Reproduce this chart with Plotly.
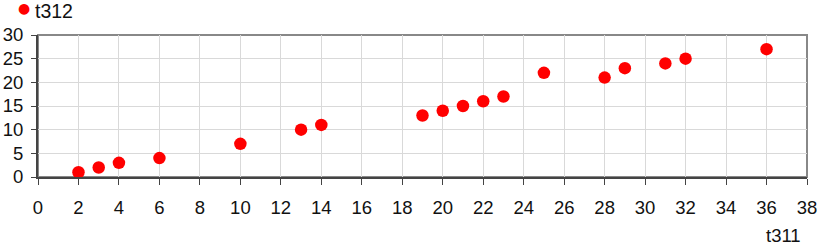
import plotly.graph_objects as go

x_vals = [2, 3, 4, 6, 10, 13, 14, 19, 20, 21, 22, 23, 25, 28, 29, 31, 32, 36]
y_vals = [1, 2, 3, 4, 7, 10, 11, 13, 14, 15, 16, 17, 22, 21, 23, 24, 25, 27]
series_name = "t312"
x_title = "t311"

W, H = 817, 245
L, T = 38, 35
R = W - 807
B = H - 177

fig = go.Figure()
fig.add_trace(go.Scatter(
    x=x_vals, y=y_vals, mode="markers", name=series_name,
    marker=dict(color="#ff0000", size=12.5, line=dict(width=0)),
    cliponaxis=False, showlegend=False,
))

font = dict(family="Liberation Sans, Arial, sans-serif", size=18.5, color="#111")
legend_font = dict(family="Liberation Sans, Arial, sans-serif", size=19.5, color="#111")

fig.update_layout(
    width=W, height=H,
    margin=dict(l=L, r=R, t=T, b=B, autoexpand=False),
    plot_bgcolor="white", paper_bgcolor="white",
    font=font,
    showlegend=False,
    xaxis=dict(range=[0, 38], dtick=2, tick0=0, showgrid=True, gridcolor="#d9d9d9",
               gridwidth=1, zeroline=False, showline=True, linecolor="#444", linewidth=2,
               ticks="outside", ticklen=6, tickcolor="#444", tickfont=font, fixedrange=True,
               ticklabelstandoff=7, ticklabeloverflow="allow"),
    yaxis=dict(range=[0, 30], dtick=5, tick0=0, showgrid=True, gridcolor="#d9d9d9",
               gridwidth=1, zeroline=False, showline=True, linecolor="#444", linewidth=2,
               ticks="outside", ticklen=5, tickcolor="#444", tickfont=font, fixedrange=True,
               ticklabelstandoff=4, ticklabeloverflow="allow"),
    shapes=[dict(type="rect", xref="x domain", yref="y domain", x0=0, x1=1, y0=0, y1=1,
                 line=dict(color="#888", width=2), layer="below")],
    annotations=[
        dict(text=x_title, xref="paper", yref="paper", x=1.0, y=0.0,
             xanchor="right", yanchor="middle", yshift=-58, xshift=-4,
             showarrow=False, font=font),
        dict(text="●", xref="paper", yref="paper", x=0, y=1, xanchor="center", yanchor="middle",
             xshift=24 - L, yshift=T - 8, showarrow=False,
             font=dict(family="DejaVu Sans", size=14, color="#ff0000")),
        dict(text=series_name, xref="paper", yref="paper", x=0, y=1, xanchor="left", yanchor="middle",
             xshift=34 - L, yshift=T - 11, showarrow=False, borderpad=0, font=legend_font),
    ],
)

fig.write_html("out.html", post_script="document.body.style.margin='0';",
               config={"displayModeBar": False})
